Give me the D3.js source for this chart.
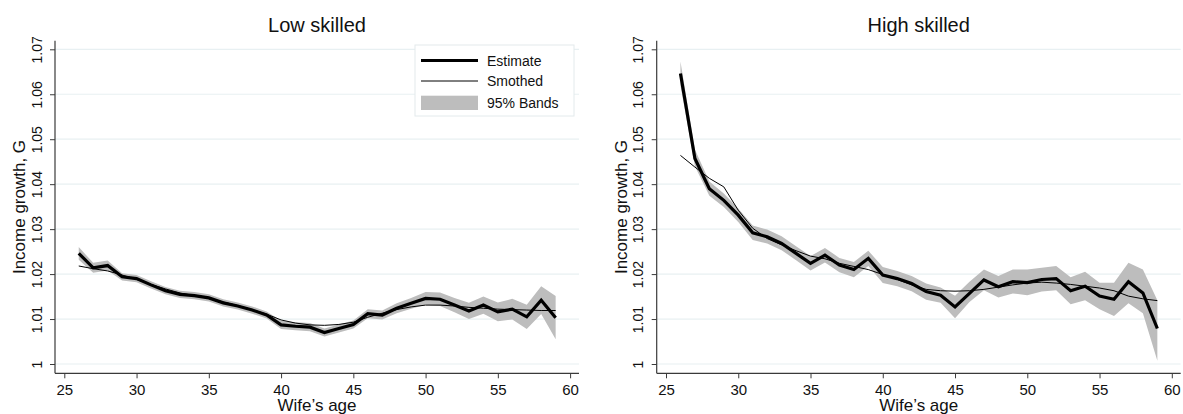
<!DOCTYPE html>
<html>
<head>
<meta charset="utf-8">
<script src="https://cdn.jsdelivr.net/npm/d3@7"></script>
<style>
  body { margin: 0; background: #fff; }
  svg { display: block; font-family: "Liberation Sans", Arial, sans-serif; }
</style>
</head>
<body>
<svg id="chart" width="1183" height="414"></svg>
<script>
const ages = [26, 27, 28, 29, 30, 31, 32, 33, 34, 35, 36, 37, 38, 39, 40, 41, 42,
  43, 44, 45, 46, 47, 48, 49, 50, 51, 52, 53, 54, 55, 56, 57, 58, 59];

const xTicks = [25, 30, 35, 40, 45, 50, 55, 60];
const yTicks = [1, 1.01, 1.02, 1.03, 1.04, 1.05, 1.06, 1.07];

// low skilled
const lowEst = [1.0246, 1.0214, 1.0219, 1.0194, 1.0190, 1.0176, 1.0163, 1.0155, 1.0152, 1.0147,
  1.0136, 1.0129, 1.0120, 1.0109, 1.0087, 1.0084, 1.0082, 1.0070, 1.0079, 1.0088,
  1.0112, 1.0109, 1.0124, 1.0135, 1.0146, 1.0144, 1.0131, 1.0118, 1.0131, 1.0116,
  1.0122, 1.0105, 1.0142, 1.0103];
const lowLo = [1.0232, 1.0203, 1.0208, 1.0186, 1.0182, 1.0168, 1.0155, 1.0147, 1.0144, 1.0139,
  1.0128, 1.0121, 1.0112, 1.0101, 1.0078, 1.0075, 1.0073, 1.0061, 1.0070, 1.0079,
  1.0102, 1.0099, 1.0113, 1.0123, 1.0132, 1.0129, 1.0115, 1.0100, 1.0112, 1.0095,
  1.0099, 1.0078, 1.0111, 1.0055];
const lowHi = [1.0260, 1.0225, 1.0230, 1.0202, 1.0198, 1.0184, 1.0171, 1.0163, 1.0160, 1.0155,
  1.0144, 1.0137, 1.0128, 1.0117, 1.0096, 1.0093, 1.0091, 1.0079, 1.0088, 1.0097,
  1.0122, 1.0119, 1.0135, 1.0147, 1.0160, 1.0159, 1.0147, 1.0136, 1.0150, 1.0137,
  1.0145, 1.0132, 1.0173, 1.0151];
const lowSmooth = [1.0218, 1.0212, 1.0207, 1.0198, 1.0188, 1.0177, 1.0167, 1.0158, 1.0152, 1.0146,
  1.0138, 1.0130, 1.0121, 1.0111, 1.0098, 1.0091, 1.0087, 1.0086, 1.0088, 1.0093,
  1.0104, 1.0113, 1.0121, 1.0127, 1.0131, 1.0131, 1.0129, 1.0126, 1.0124, 1.0122,
  1.0121, 1.0120, 1.0119, 1.0119];

// high skilled
const highEst = [1.0646, 1.0457, 1.0390, 1.0364, 1.0331, 1.0292, 1.0283, 1.0268, 1.0246, 1.0224,
  1.0242, 1.0220, 1.0210, 1.0235, 1.0198, 1.0190, 1.0179, 1.0161, 1.0153, 1.0127,
  1.0157, 1.0187, 1.0172, 1.0183, 1.0181, 1.0188, 1.0190, 1.0163, 1.0173, 1.0151,
  1.0144, 1.0183, 1.0158, 1.0079];
const highLo = [1.0620, 1.0440, 1.0374, 1.0349, 1.0316, 1.0276, 1.0268, 1.0253, 1.0231, 1.0208,
  1.0226, 1.0204, 1.0193, 1.0218, 1.0180, 1.0173, 1.0162, 1.0143, 1.0136, 1.0102,
  1.0138, 1.0164, 1.0148, 1.0157, 1.0153, 1.0161, 1.0164, 1.0133, 1.0142, 1.0122,
  1.0107, 1.0135, 1.0113, 1.0007];
const highHi = [1.0673, 1.0477, 1.0406, 1.0379, 1.0346, 1.0308, 1.0299, 1.0284, 1.0262, 1.0240,
  1.0258, 1.0236, 1.0227, 1.0252, 1.0216, 1.0207, 1.0196, 1.0179, 1.0170, 1.0152,
  1.0183, 1.0210, 1.0196, 1.0210, 1.0210, 1.0214, 1.0218, 1.0193, 1.0205, 1.0181,
  1.0181, 1.0225, 1.0210, 1.0142];
const highSmooth = [1.0464, 1.0438, 1.0413, 1.0394, 1.0342, 1.0302, 1.0279, 1.0265, 1.0252, 1.0240,
  1.0234, 1.0224, 1.0217, 1.0210, 1.0199, 1.0188, 1.0176, 1.0166, 1.0163, 1.0162,
  1.0163, 1.0166, 1.0171, 1.0176, 1.0180, 1.0182, 1.0180, 1.0177, 1.0173, 1.0169,
  1.0163, 1.0151, 1.0145, 1.0141];

const legendItems = ['Estimate', 'Smothed', '95% Bands'];

const COLORS = {
  band: '#bdbdbd',
  grid: '#e8f0f2',
  axis: '#3a3a3a',
  line: '#000000'
};

const PLOT = { top: 40.7, bottom: 373.3, width: 524, pad: 9.3 };

const svg = d3.select('#chart');

function drawPanel(left, title, est, lo, hi, smooth, withLegend) {
  const right = left + PLOT.width;
  const x = d3.scaleLinear()
    .domain([25, 60])
    .range([left + PLOT.pad, left + PLOT.pad + 505.8]);
  const y = d3.scaleLinear()
    .domain([1, 1.07])
    .range([364, 49.3]);

  const g = svg.append('g');

  // gridlines
  g.append('g')
    .selectAll('line')
    .data(yTicks)
    .enter()
    .append('line')
    .attr('x1', left)
    .attr('x2', right)
    .attr('y1', d => y(d))
    .attr('y2', d => y(d))
    .attr('stroke', COLORS.grid)
    .attr('stroke-width', 1.2);

  const rows = ages.map((a, i) => ({ age: a, est: est[i], lo: lo[i], hi: hi[i], sm: smooth[i] }));

  // band
  g.append('path')
    .datum(rows)
    .attr('fill', COLORS.band)
    .attr('d', d3.area()
      .x(d => x(d.age))
      .y0(d => y(d.lo))
      .y1(d => y(d.hi)));

  g.append('path')
    .datum(rows)
    .attr('fill', 'none')
    .attr('stroke', COLORS.line)
    .attr('stroke-width', 3.2)
    .attr('stroke-linejoin', 'miter')
    .attr('d', d3.line().x(d => x(d.age)).y(d => y(d.est)));

  g.append('path')
    .datum(rows)
    .attr('fill', 'none')
    .attr('stroke', COLORS.line)
    .attr('stroke-width', 1)
    .attr('d', d3.line().x(d => x(d.age)).y(d => y(d.sm)));

  // axes
  const axisY = d3.axisLeft(y)
    .tickValues(yTicks)
    .tickSize(5)
    .tickFormat(d => String(+d.toFixed(2)));
  const gy = g.append('g')
    .attr('transform', 'translate(' + left + ',0)')
    .call(axisY);
  gy.select('.domain').remove();
  gy.selectAll('line').attr('stroke', COLORS.axis);
  gy.selectAll('text')
    .attr('transform', 'translate(-13.3,0) rotate(-90)')
    .attr('x', 0)
    .attr('y', 0)
    .attr('dy', 0)
    .attr('text-anchor', 'middle')
    .attr('font-size', 14)
    .attr('font-family', '"Liberation Sans", Arial, sans-serif')
    .attr('fill', '#111');

  const axisX = d3.axisBottom(x)
    .tickValues(xTicks)
    .tickSize(5);
  const gx = g.append('g')
    .attr('transform', 'translate(0,' + PLOT.bottom + ')')
    .call(axisX);
  gx.select('.domain').remove();
  gx.selectAll('line').attr('stroke', COLORS.axis);
  gx.selectAll('text')
    .attr('y', 22)
    .attr('dy', 0)
    .attr('font-size', 15)
    .attr('font-family', '"Liberation Sans", Arial, sans-serif')
    .attr('fill', '#111');

  g.append('line')
    .attr('x1', left).attr('x2', left)
    .attr('y1', PLOT.top).attr('y2', PLOT.bottom)
    .attr('stroke', COLORS.axis).attr('stroke-width', 1.2);
  g.append('line')
    .attr('x1', left).attr('x2', right)
    .attr('y1', PLOT.bottom).attr('y2', PLOT.bottom)
    .attr('stroke', COLORS.axis).attr('stroke-width', 1.2);

  // titles
  const cx = (left + right) / 2;
  g.append('text')
    .attr('x', cx)
    .attr('y', 31.5)
    .attr('text-anchor', 'middle')
    .attr('font-size', 20)
    .attr('fill', '#111')
    .text(title);

  g.append('text')
    .attr('x', cx)
    .attr('y', 411)
    .attr('text-anchor', 'middle')
    .attr('font-size', 17)
    .attr('fill', '#111')
    .text('Wife\u2019s age');

  g.append('text')
    .attr('transform', 'translate(' + (left - 30) + ',' + ((PLOT.top + PLOT.bottom) / 2) + ') rotate(-90)')
    .attr('text-anchor', 'middle')
    .attr('font-size', 17)
    .attr('fill', '#111')
    .text('Income growth, G');

  if (withLegend) drawLegend(g);
}

function drawLegend(g) {
  const lg = g.append('g').attr('class', 'legend');
  lg.append('rect')
    .attr('x', 415).attr('y', 45)
    .attr('width', 159).attr('height', 71)
    .attr('fill', '#fff')
    .attr('stroke', '#e3eaec');

  const rowY = [60.5, 81, 103];
  legendItems.forEach((label, i) => {
    if (i === 0) {
      lg.append('line')
        .attr('x1', 421).attr('x2', 478)
        .attr('y1', rowY[i]).attr('y2', rowY[i])
        .attr('stroke', COLORS.line).attr('stroke-width', 3.2);
    } else if (i === 1) {
      lg.append('line')
        .attr('x1', 421).attr('x2', 478)
        .attr('y1', rowY[i]).attr('y2', rowY[i])
        .attr('stroke', COLORS.line).attr('stroke-width', 1);
    } else {
      lg.append('rect')
        .attr('x', 421).attr('y', 95.7)
        .attr('width', 57).attr('height', 14.3)
        .attr('fill', COLORS.band);
    }
    lg.append('text')
      .attr('x', 487)
      .attr('y', rowY[i] + 5)
      .attr('font-size', 14)
      .attr('fill', '#111')
      .text(label);
  });
}

drawPanel(55, 'Low skilled', lowEst, lowLo, lowHi, lowSmooth, true);
drawPanel(656.7, 'High skilled', highEst, highLo, highHi, highSmooth, false);
</script>
</body>
</html>
